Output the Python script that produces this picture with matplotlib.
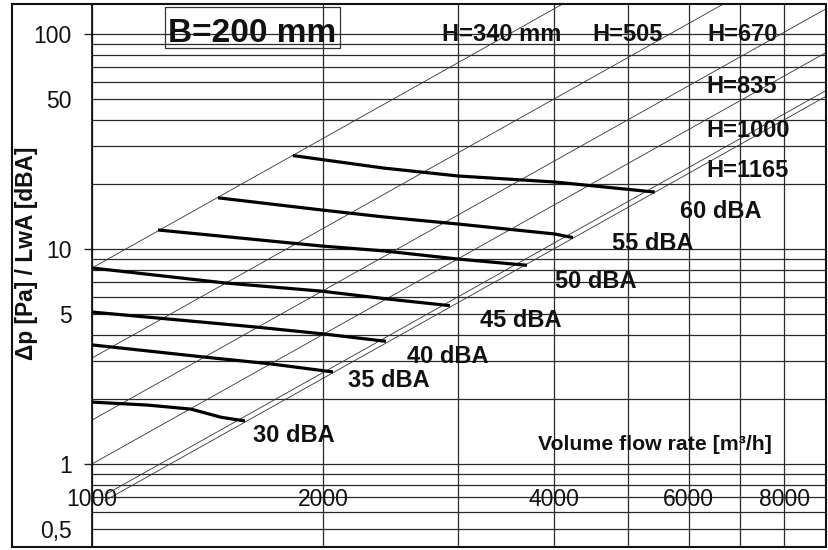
import matplotlib
matplotlib.use("Agg")
import matplotlib.pyplot as plt
from matplotlib.patches import Rectangle
from matplotlib.ticker import NullLocator

plt.rcParams['font.family'] = ['Liberation Sans', 'DejaVu Sans']

# ---------------- data ----------------
# grid values
y_grid = [0.5, 0.6, 0.7, 0.8, 0.9, 1, 2, 3, 4, 5, 6, 7, 8, 9,
          10, 20, 30, 40, 50, 60, 70, 80, 90, 100]
x_grid = [1000, 2000, 3000, 4000, 5000, 6000, 7000, 8000]

# tick labels
y_major_vals = [1, 10, 100]
y_major_labels = ["1", "10", "100"]
y_minor_vals = [0.5, 5, 50]
y_minor_labels = ["0,5", "5", "50"]
x_label_vals = [1000, 2000, 4000, 6000, 8000]
x_label_text = ["1000", "2000", "4000", "6000", "8000"]

# H lines (straight lines in log-log), start and end points
h_names = ["H=340 mm", "H=505", "H=670", "H=835", "H=1000", "H=1165"]
h_q_start = [1000, 1000, 1000, 1000, 1040, 1040]
h_p_start = [8.16, 3.11, 1.60, 1.00, 0.719, 0.676]
h_q_end = [4110, 6650, 9063, 9063, 9063, 9063]
h_p_end = [137.9, 137.5, 131.0, 82.0, 54.6, 51.3]

# constant sound level curves
q30 = [1000, 1180, 1346, 1473, 1583]
p30 = [1.94, 1.88, 1.80, 1.65, 1.585]
q35 = [1000, 1404, 1712, 2062]
p35 = [3.58, 3.14, 2.92, 2.68]
q40 = [1000, 1631, 2012, 2417]
p40 = [5.09, 4.34, 4.02, 3.72]
q45 = [1000, 1491, 1989, 2432, 2929]
p45 = [8.16, 6.95, 6.37, 5.85, 5.45]
q50 = [1219, 1989, 2400, 3000, 3692]
p50 = [12.26, 10.33, 9.8, 8.98, 8.40]
q55 = [1460, 1989, 2400, 3000, 4015, 4239]
p55 = [17.3, 15.2, 14.1, 13.07, 11.74, 11.3]
q60 = [1828, 2400, 3000, 4015, 5420]
p60 = [27.2, 23.8, 21.86, 20.49, 18.4]

# ---------------- figure ----------------
W, H = 829, 550
fig = plt.figure(figsize=(W / 100, H / 100), dpi=100)


def fx(x):
    return x / W


def fy(y):
    return 1 - y / H


ax = fig.add_axes([fx(92), fy(547), (826 - 92) / W, (547 - 4) / H])
ax.set_xscale('log')
ax.set_yscale('log')
ax.set_xlim(1000, 9063)
ax.set_ylim(0.411, 137.9)

grid_color = '#2a2a2a'
for v in y_grid:
    ax.axhline(v, color=grid_color, lw=0.9, zorder=1)
for v in x_grid:
    ax.axvline(v, color=grid_color, lw=0.9, zorder=1)

for qs, ps, qe, pe in zip(h_q_start, h_p_start, h_q_end, h_p_end):
    ax.plot([qs, qe], [ps, pe], color='#333333', lw=0.6, zorder=2)

for q, p in [(q30, p30), (q35, p35), (q40, p40), (q45, p45),
             (q50, p50), (q55, p55), (q60, p60)]:
    ax.plot(q, p, color='black', lw=2.3, zorder=3, solid_capstyle='butt')

# ticks
ax.xaxis.set_major_locator(NullLocator())
ax.xaxis.set_minor_locator(NullLocator())
ax.set_yticks(y_major_vals, labels=y_major_labels)
ax.set_yticks(y_minor_vals, labels=y_minor_labels, minor=True)
ax.tick_params(axis='y', which='major', length=5.8, width=1.0, pad=8.6,
               labelsize=16.5, color='#222222')
ax.tick_params(axis='y', which='minor', length=0, pad=14.4, labelsize=16.5)
for lbl in ax.get_yticklabels(minor=True) + ax.get_yticklabels():
    lbl.set_color('#111111')

for v, t in zip(x_label_vals, x_label_text):
    ax.text(v, 0.635, t, ha='center', va='baseline', fontsize=16.5,
            color='#111111', zorder=4)

for s in ax.spines.values():
    s.set_linewidth(1.3)
    s.set_color('#111111')

# outer frame
fig.add_artist(Rectangle((fx(12), fy(547)), (826 - 12) / W, (547 - 4) / H,
                         transform=fig.transFigure, fill=False, lw=1.5,
                         ec='#111111'))

# title box
fig.add_artist(Rectangle((fx(165), fy(48)), (340 - 165) / W, (48 - 7) / H,
                         transform=fig.transFigure, fill=False, lw=0.9,
                         ec='#333333'))
fig.text(fx(168), fy(42), "B=200 mm", ha='left', va='baseline',
         fontsize=24, fontweight='bold', color='#111111')

bold = dict(ha='left', va='baseline', fontsize=17, fontweight='bold',
            color='#111111')
fig.text(fx(442), fy(41), h_names[0], **bold)
fig.text(fx(592), fy(41), h_names[1], **bold)
fig.text(fx(707), fy(41), h_names[2], **bold)
fig.text(fx(706), fy(93), h_names[3], **bold)
fig.text(fx(706), fy(137), h_names[4], **bold)
fig.text(fx(706), fy(177), h_names[5], **bold)

fig.text(fx(680), fy(218), "60 dBA", **bold)
fig.text(fx(612), fy(250), "55 dBA", **bold)
fig.text(fx(555), fy(288), "50 dBA", **bold)
fig.text(fx(480), fy(327), "45 dBA", **bold)
fig.text(fx(407), fy(363), "40 dBA", **bold)
fig.text(fx(348), fy(387), "35 dBA", **bold)
fig.text(fx(253), fy(442), "30 dBA", **bold)

fig.text(fx(538), fy(450), "Volume flow rate [m³/h]", ha='left',
         va='baseline', fontsize=15.3, fontweight='bold', color='#111111')

fig.text(fx(27), fy(253), "Δp [Pa] / LwA [dBA]", rotation=90, ha='center',
         va='center', fontsize=16.4, fontweight='bold', color='#111111')

fig.savefig("out.png", dpi=100)
